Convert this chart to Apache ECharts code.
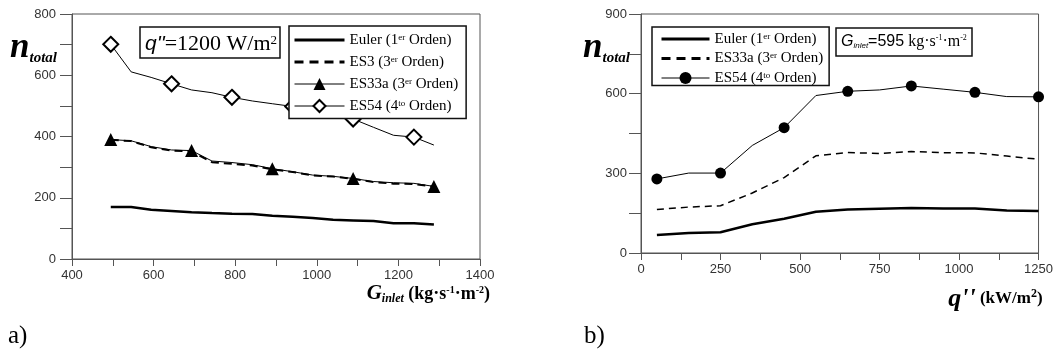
<!DOCTYPE html>
<html><head><meta charset="utf-8">
<script src="https://cdn.jsdelivr.net/npm/echarts@6/dist/echarts.min.js"></script>
<style>html,body{margin:0;padding:0;background:#fff}#c{width:1056px;height:359px}</style>
</head><body><div id="c"></div>
<script>
// ---- Panel a) : n_total vs G_inlet (q'' = 1200 W/m2)
const gInlet = [495,545,594,644,693,743,792,842,891,941,990,1040,1089,1139,1188,1238,1287];
const aEuler = [170,170,161,157,153,150,148,147,141,138,134,128,126,124,117,117,113];
const aES3   = [389,385,365,354,351,316,311,305,293,284,273,269,262,251,246,245,236];
const aES33a = [390,386,367,356,354,320,315,308,295,285,274,270,263,253,249,247,237];
const aES54  = [701,611,593,572,552,543,528,516,507,498,487,471,457,430,404,398,372];
const aNames = ['Euler (1er Orden)','ES3 (3er Orden)','ES33a (3er Orden)','ES54 (4to Orden)'];
const aXTicks = {min:400, max:1400, step:200};
const aYTicks = {min:0, max:800, step:200};

// ---- Panel b) : n_total vs q'' (G_inlet = 595)
const qFlux  = [50,150,250,350,450,550,650,750,850,950,1050,1150,1250];
const bEuler = [68,75,78,108,129,155,164,167,169,168,168,160,158];
const bES33a = [164,173,178,226,284,366,378,375,382,378,377,365,353];
const bES54  = [279,301,301,405,472,593,609,614,629,617,605,589,588];
const bNames = ['Euler (1er Orden)','ES33a (3er Orden)','ES54 (4to Orden)'];
const bXTicks = {min:0, max:1250, step:250};
const bYTicks = {min:0, max:900, step:300};

const zip = (xs, ys) => xs.map((x, i) => [x, ys[i]]);
const AX = '#555';
const SERIF = 'Liberation Serif';
const SANS = 'Liberation Sans';

function axisBase(t, grid, lblMargin, tickLen) {
  return {
    type: 'value', gridIndex: grid, min: t.min, max: t.max, interval: t.step,
    axisLine: {show: true, onZero: false, lineStyle: {color: AX, width: 1}},
    axisTick: {show: true, length: tickLen, lineStyle: {color: AX, width: 1}},
    minorTick: {show: true, splitNumber: 2, length: tickLen, lineStyle: {color: AX, width: 1}},
    splitLine: {show: false}, minorSplitLine: {show: false},
    axisLabel: {color: '#333', fontFamily: SANS, fontSize: 13, margin: lblMargin, formatter: v => String(v)}
  };
}

const legendRich = {
  t: {fontFamily: SERIF, fontWeight: 'normal', fontSize: 15, lineHeight: 20, color: '#000'},
  s: {fontFamily: SERIF, fontWeight: 'normal', fontSize: 9, lineHeight: 9, verticalAlign: 'top', padding: [3,0,0,0], color: '#000'}
};
const legendFmt = name => '{t|' + name.slice(2).replace(/(\d)(er|to)/, '$1}{s|$2}{t|') + '}';
const noSym = {opacity: 0};

const nameRich = {
  n: {fontFamily: SERIF, fontStyle: 'italic', fontWeight: 'bold', fontSize: 35, lineHeight: 36, color: '#000'},
  sub: {fontFamily: SERIF, fontStyle: 'italic', fontWeight: 'bold', fontSize: 15, lineHeight: 15, verticalAlign: 'bottom', color: '#000'}
};

const chart = echarts.init(document.getElementById('c'), null, {renderer: 'canvas'});
chart.setOption({
  animation: false,
  backgroundColor: '#fff',
  grid: [
    {left: 72, top: 14, width: 408, height: 245, show: true, borderColor: AX, borderWidth: 1, containLabel: false},
    {left: 641, top: 14, width: 400, height: 239, show: true, borderColor: AX, borderWidth: 1, containLabel: false}
  ],
  xAxis: [
    Object.assign(axisBase(aXTicks, 0, 10, 7), {
      name: '{G|G}{i|inlet}{b| (kg·s}{s|-1}{b|·m}{s|-2}{b|)}',
      nameLocation: 'end', nameGap: 10,
      nameTextStyle: {align: 'right', verticalAlign: 'top', padding: [24,0,0,0], rich: {
        G: {fontFamily: SERIF, fontStyle: 'italic', fontWeight: 'bold', fontSize: 21, lineHeight: 22, color: '#000'},
        i: {fontFamily: SERIF, fontStyle: 'italic', fontWeight: 'bold', fontSize: 12, lineHeight: 12, verticalAlign: 'bottom', color: '#000'},
        b: {fontFamily: SERIF, fontWeight: 'bold', fontSize: 18, lineHeight: 22, color: '#000'},
        s: {fontFamily: SERIF, fontWeight: 'bold', fontSize: 10, lineHeight: 10, verticalAlign: 'top', padding: [2,0,0,0], color: '#000'}
      }}
    }),
    Object.assign(axisBase(bXTicks, 1, 10, 7), {
      name: "{q|q''}{b| (kW/m}{s|2}{b|)}",
      nameLocation: 'end', nameGap: 4,
      nameTextStyle: {align: 'right', verticalAlign: 'top', padding: [33,0,0,0], rich: {
        q: {fontFamily: SERIF, fontStyle: 'italic', fontWeight: 'bold', fontSize: 26, lineHeight: 26, color: '#000'},
        b: {fontFamily: SERIF, fontWeight: 'bold', fontSize: 17, lineHeight: 26, color: '#000'},
        s: {fontFamily: SERIF, fontWeight: 'bold', fontSize: 12, lineHeight: 12, verticalAlign: 'top', padding: [2,0,0,0], color: '#000'}
      }}
    })
  ],
  yAxis: [
    Object.assign(axisBase(aYTicks, 0, 16, 12), {
      name: '{n|n}{sub|total}', nameLocation: 'end', nameGap: -16,
      nameTextStyle: {align: 'right', verticalAlign: 'top', padding: [0,15,0,0], rich: nameRich}
    }),
    Object.assign(axisBase(bYTicks, 1, 14, 12), {
      name: '{n|n}{sub|total}', nameLocation: 'end', nameGap: -16,
      nameTextStyle: {align: 'right', verticalAlign: 'top', padding: [0,11,0,0], rich: nameRich}
    })
  ],
  legend: [
    {
      data: [
        {name: 'a:' + aNames[0], itemStyle: noSym, lineStyle: {width: 3}},
        {name: 'a:' + aNames[1], itemStyle: noSym, lineStyle: {width: 3, type: [9,6]}},
        {name: 'a:' + aNames[2], lineStyle: {width: 1}},
        {name: 'a:' + aNames[3], lineStyle: {width: 1}}
      ],
      formatter: legendFmt, orient: 'vertical',
      left: 289, top: 26, itemWidth: 50, itemHeight: 15, itemGap: 4.5,
      padding: [4,8,5,4], borderColor: '#111', borderWidth: 1.5, backgroundColor: '#fff',
      textStyle: {rich: legendRich}, selectedMode: false
    },
    {
      data: [
        {name: 'b:' + bNames[0], itemStyle: noSym, lineStyle: {width: 3}},
        {name: 'b:' + bNames[1], itemStyle: noSym, lineStyle: {width: 3, type: [9,6]}},
        {name: 'b:' + bNames[2], lineStyle: {width: 1}}
      ],
      formatter: legendFmt, orient: 'vertical',
      left: 652, top: 27, itemWidth: 48, itemHeight: 15, itemGap: 2,
      padding: [2,6,0,8], borderColor: '#111', borderWidth: 1.5, backgroundColor: '#fff',
      textStyle: {rich: legendRich}, selectedMode: false
    }
  ],
  title: [
    {
      text: "{q|q''}{t|=1200 W/m}{s|2}", left: 140, top: 27,
      borderColor: '#111', borderWidth: 1.5, padding: [3,3,3,5],
      textStyle: {fontWeight: 'normal', rich: {
        q: {fontFamily: SANS, fontStyle: 'italic', fontWeight: 'normal', fontSize: 21, lineHeight: 29, color: '#000'},
        t: {fontFamily: SERIF, fontWeight: 'normal', fontSize: 22, lineHeight: 29, color: '#000'},
        s: {fontFamily: SERIF, fontWeight: 'normal', fontSize: 13, lineHeight: 13, verticalAlign: 'top', padding: [4,0,0,0], color: '#000'}
      }}
    },
    {
      text: '{G|G}{i|inlet}{n|=595}{t| kg·s}{s|-1}{t|·m}{s|-2}', left: 836, top: 28,
      borderColor: '#111', borderWidth: 1.5, padding: [3,5,3,5],
      textStyle: {fontWeight: 'normal', rich: {
        G: {fontFamily: SANS, fontStyle: 'italic', fontWeight: 'normal', fontSize: 16, lineHeight: 22, color: '#000'},
        i: {fontFamily: SANS, fontStyle: 'italic', fontWeight: 'normal', fontSize: 8, lineHeight: 8, verticalAlign: 'bottom', padding: [0,0,3,0], color: '#000'},
        n: {fontFamily: SANS, fontWeight: 'normal', fontSize: 16, lineHeight: 22, color: '#000'},
        t: {fontFamily: SERIF, fontWeight: 'normal', fontSize: 16, lineHeight: 22, color: '#000'},
        s: {fontFamily: SERIF, fontWeight: 'normal', fontSize: 8, lineHeight: 8, verticalAlign: 'top', padding: [3,0,0,0], color: '#000'}
      }}
    },
    {text: 'a)', left: 8, top: 324, padding: 0, textStyle: {fontFamily: SERIF, fontWeight: 'normal', fontSize: 25, color: '#000'}},
    {text: 'b)', left: 584, top: 324, padding: 0, textStyle: {fontFamily: SERIF, fontWeight: 'normal', fontSize: 25, color: '#000'}}
  ],
  series: [
    {name: 'a:' + aNames[0], type: 'line', xAxisIndex: 0, yAxisIndex: 0, data: zip(gInlet, aEuler),
     symbol: 'none', lineStyle: {color: '#000', width: 2.5}, itemStyle: {color: '#000'}},
    {name: 'a:' + aNames[1], type: 'line', xAxisIndex: 0, yAxisIndex: 0, data: zip(gInlet, aES3),
     symbol: 'none', lineStyle: {color: '#000', width: 2, type: [8,5]}, itemStyle: {color: '#000'}},
    {name: 'a:' + aNames[2], type: 'line', xAxisIndex: 0, yAxisIndex: 0, data: zip(gInlet, aES33a),
     symbol: 'triangle', symbolSize: (v, p) => p.dataIndex % 4 === 0 ? 13 : 0,
     lineStyle: {color: '#000', width: 1}, itemStyle: {color: '#000'}},
    {name: 'a:' + aNames[3], type: 'line', xAxisIndex: 0, yAxisIndex: 0, data: zip(gInlet, aES54),
     symbol: 'diamond', symbolSize: (v, p) => p.dataIndex % 3 === 0 ? 15 : 0,
     lineStyle: {color: '#000', width: 1}, itemStyle: {color: '#fff', borderColor: '#000', borderWidth: 2}},

    {name: 'b:' + bNames[0], type: 'line', xAxisIndex: 1, yAxisIndex: 1, data: zip(qFlux, bEuler),
     symbol: 'none', lineStyle: {color: '#000', width: 2.5}, itemStyle: {color: '#000'}},
    {name: 'b:' + bNames[1], type: 'line', xAxisIndex: 1, yAxisIndex: 1, data: zip(qFlux, bES33a),
     symbol: 'none', lineStyle: {color: '#000', width: 1.5, type: [7,5]}, itemStyle: {color: '#000'}},
    {name: 'b:' + bNames[2], type: 'line', xAxisIndex: 1, yAxisIndex: 1, data: zip(qFlux, bES54),
     symbol: 'circle', symbolSize: (v, p) => p.dataIndex % 2 === 0 ? 11 : 0,
     lineStyle: {color: '#000', width: 1}, itemStyle: {color: '#000'}}
  ]
});
</script>
</body></html>
